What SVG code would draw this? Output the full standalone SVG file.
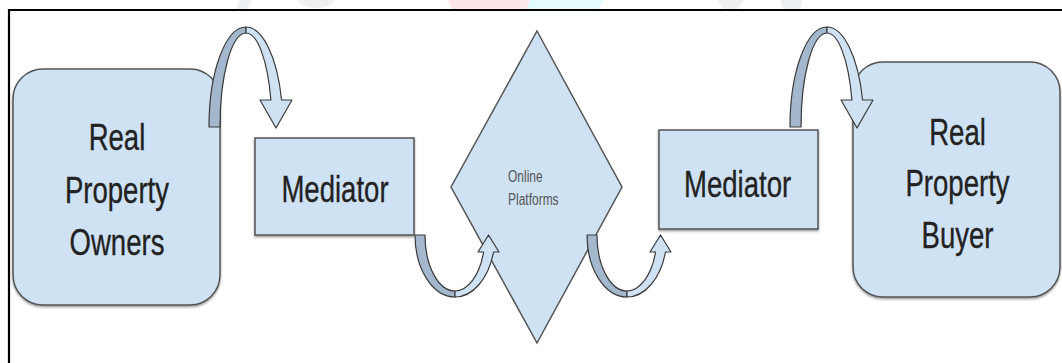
<svg xmlns="http://www.w3.org/2000/svg" width="1062" height="363" viewBox="0 0 1062 363">
  <defs>
    <style>
      .node { fill: #cfe2f3; stroke: #545454; stroke-width: 1.5; }
      .lbl { font-family: "Liberation Sans", Arial, sans-serif; font-size: 37px; fill: #222222; stroke: #222222; stroke-width: 0.35; text-anchor: middle; }
      .small { font-family: "Liberation Sans", Arial, sans-serif; font-size: 16px; fill: #555555; }
      .dark { fill: #a3b8cc; stroke: #3a3a3a; stroke-width: 1.2; stroke-linejoin: round; }
      .light { fill: #cfe2f3; stroke: #3a3a3a; stroke-width: 1.2; stroke-linejoin: round; }
      .wm { opacity: 0.55; }
    </style>
    <filter id="sh" x="-10%" y="-10%" width="120%" height="125%">
      <feDropShadow dx="0" dy="1.5" stdDeviation="0.8" flood-color="#000" flood-opacity="0.4"/>
    </filter>
    <g id="downArrow">
      <path class="dark" d="M209,127 A37,100 0 0 1 246,27 L246,33 A26,94 0 0 0 220,127 Z"/>
      <path class="light" d="M246,27 A37,100 0 0 1 281.6,100 L292,100 L276,128 L260,100 L270.9,100 A26,94 0 0 0 246,33 Z"/>
    </g>
    <g id="upArrow">
      <path class="dark" d="M415,235 A40,62 0 0 0 455,297 L455,291 A30,56 0 0 1 425,235 Z"/>
      <path class="light" d="M455,297 A40,62 0 0 0 493.5,252 L499,252 L488.5,235 L478,252 L483.6,252 A30,56 0 0 1 455,291 Z"/>
    </g>
  </defs>

  <rect x="0" y="0" width="1062" height="363" fill="#ffffff"/>

  <!-- faint watermark fragments above the frame -->
  <g id="watermark" class="wm">
    <path d="M240,0 L252,0 L246,10 L236,10 Z" fill="#dfe3e7"/>
    <path d="M298,0 L334,0 Q330,8 316,8 Q302,8 298,0 Z" fill="#dfe3e7"/>
    <path d="M448,0 L530,0 L526,10 L453,10 Z" fill="#fdd3d8"/>
    <path d="M530,0 L604,0 L598,10 L526,10 Z" fill="#cff9fc"/>
    <path d="M718,0 L744,0 L738,9 L722,9 Z" fill="#dfe3e7"/>
    <path d="M780,0 L802,0 L800,10 L784,10 Z" fill="#dfe3e7"/>
  </g>

  <!-- frame -->
  <path d="M9,363 L9,10 L1062,10" fill="none" stroke="#000" stroke-width="2.2"/>

  <g id="owners">
    <rect class="node" x="13" y="69" width="207" height="236" rx="30" ry="30" filter="url(#sh)"/>
    <g transform="matrix(0.745,0,0,1,29.8,0)">
      <text class="lbl" x="117" y="150">Real</text>
      <text class="lbl" x="117" y="203">Property</text>
      <text class="lbl" x="117" y="255">Owners</text>
    </g>
  </g>

  <g id="mediator1">
    <rect class="node" x="255" y="138" width="159" height="97" filter="url(#sh)"/>
    <g transform="matrix(0.745,0,0,1,85.4,0)">
      <text class="lbl" x="335" y="202">Mediator</text>
    </g>
  </g>

  <g id="platforms">
    <polygon class="node" points="537,31 622,187 537,343 451,187"/>
    <g transform="matrix(0.75,0,0,1,127,0)">
      <text class="small" x="508" y="182">Online</text>
      <text class="small" x="508" y="205">Platforms</text>
    </g>
  </g>

  <g id="mediator2">
    <rect class="node" x="659" y="130" width="159" height="99" filter="url(#sh)"/>
    <g transform="matrix(0.745,0,0,1,188.1,0)">
      <text class="lbl" x="737.5" y="197">Mediator</text>
    </g>
  </g>

  <g id="buyer">
    <rect class="node" x="853" y="62" width="207" height="235" rx="30" ry="30" filter="url(#sh)"/>
    <g transform="matrix(0.745,0,0,1,244.2,0)">
      <text class="lbl" x="957.5" y="145">Real</text>
      <text class="lbl" x="957.5" y="196">Property</text>
      <text class="lbl" x="957.5" y="248">Buyer</text>
    </g>
  </g>

  <g id="connectors">
    <use href="#downArrow"/>
    <use href="#upArrow"/>
    <use href="#upArrow" transform="translate(172,0)"/>
    <use href="#downArrow" transform="translate(581,0)"/>
  </g>
</svg>
